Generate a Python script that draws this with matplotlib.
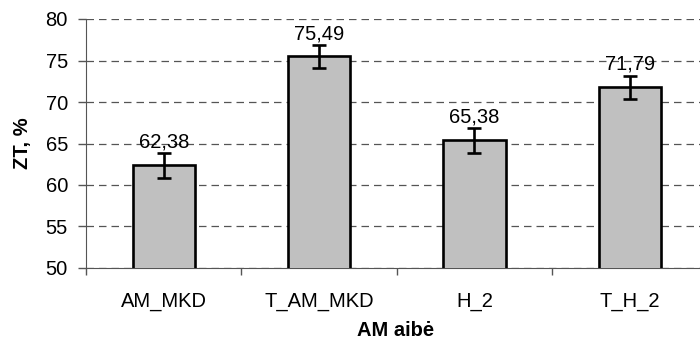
import matplotlib
matplotlib.use("Agg")
import matplotlib.pyplot as plt
import numpy as np

# ZT values per AM set, with error bar half-widths
categories = ["AM_MKD", "T_AM_MKD", "H_2", "T_H_2"]
zt_values = [62.38, 75.49, 65.38, 71.79]
zt_errors = [1.5, 1.37, 1.47, 1.39]
y_ticks = [50, 55, 60, 65, 70, 75, 80]

plt.rcParams["font.family"] = ["Liberation Sans", "DejaVu Sans"]
FS = 14.5

fig = plt.figure(figsize=(7.0, 3.43), dpi=100)
# axes runs slightly past the right edge of the figure
ax = fig.add_axes([86 / 700, 1 - 268 / 343, 621.5 / 700, 249 / 343])

x = np.arange(len(categories))
ax.bar(x, zt_values, width=0.4, color="#c0c0c0", edgecolor="black",
       linewidth=1.9, zorder=3)
ax.errorbar(x, zt_values, yerr=zt_errors, fmt="none", ecolor="black",
            elinewidth=1.9, capsize=4.8, capthick=1.9, zorder=4)

for xi, v in zip(x, zt_values):
    ax.annotate(f"{v:.2f}".replace(".", ","), (xi, v), xytext=(0, 16.5),
                textcoords="offset points", ha="center", va="center",
                fontsize=FS, zorder=5)

ax.set_xlim(-0.5, len(categories) - 0.5)
ax.set_ylim(50, 80)
ax.set_yticks(y_ticks)
ax.set_xticks(x)
ax.set_xticklabels(categories, fontsize=FS)
ax.set_xticks(np.arange(len(categories) + 1) - 0.5, minor=True)
ax.tick_params(axis="x", which="major", length=0, pad=17)
ax.tick_params(axis="x", which="minor", length=5, width=1, color="#555555")
ax.tick_params(axis="y", labelsize=FS, length=6, width=1, color="#555555", pad=7)

ax.yaxis.grid(True, linestyle=(0, (6, 4)), color="#555555", linewidth=0.9, zorder=0)
for s in ["top", "right"]:
    ax.spines[s].set_visible(False)
ax.spines["left"].set_color("#555555")
ax.spines["bottom"].set_color("#555555")

ax.set_ylabel("ZT, %", fontsize=FS, fontweight="bold", va="center")
ax.yaxis.set_label_coords((22 - 86) / 621.5, 0.5)
ax.set_xlabel("AM aibė", fontsize=FS, fontweight="bold", va="center")
ax.xaxis.set_label_coords((396 - 86) / 621.5, -62 / 249)

fig.savefig("out.png", dpi=100)
